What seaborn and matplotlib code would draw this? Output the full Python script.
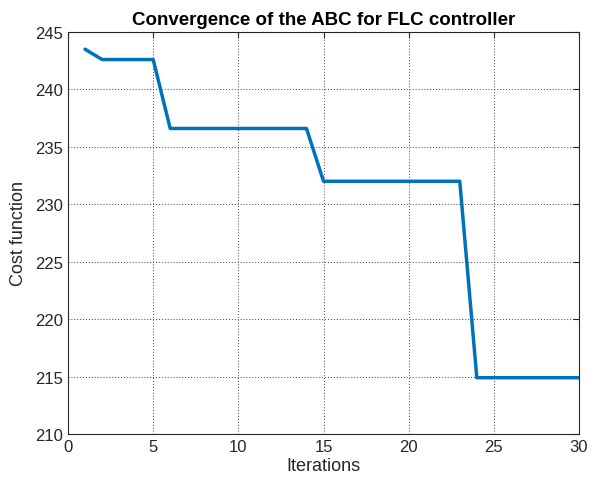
import numpy as np
import pandas as pd
import matplotlib
matplotlib.use("Agg")
import matplotlib.pyplot as plt
import seaborn as sns

iterations = list(range(1, 31))
cost = ([243.5, 242.6, 242.6, 242.6, 242.6]
        + [236.6] * 9
        + [232.0] * 9
        + [214.9] * 7)
x_ticks = [0, 5, 10, 15, 20, 25, 30]
y_ticks = [210, 215, 220, 225, 230, 235, 240, 245]

sns.set_style("white")
plt.rcParams['font.family'] = ['Liberation Sans', 'DejaVu Sans']

df = pd.DataFrame({"Iterations": iterations, "Cost function": cost})

fig = plt.figure(figsize=(5.93, 4.85), dpi=100)
ax = fig.add_axes([0.1147, 0.1031, 0.8617, 0.8289])
sns.lineplot(data=df, x="Iterations", y="Cost function", ax=ax,
             color="#0072BD", linewidth=2.5)

ax.set_xlim(0, 30)
ax.set_ylim(210, 245)
ax.set_xticks(x_ticks)
ax.set_yticks(y_ticks)
ax.tick_params(direction="in", top=True, right=True, labelsize=12,
               length=4, width=0.8, colors="#262626", labelcolor="#262626")
ax.grid(True, linestyle=(0, (1, 2)), color="#404040", linewidth=0.7)
for s in ax.spines.values():
    s.set_visible(True)
    s.set_color("#262626")
    s.set_linewidth(0.8)

ax.set_xlabel("Iterations", fontsize=13, color="#262626", labelpad=2)
ax.set_ylabel("Cost function", fontsize=13, color="#262626", labelpad=6)
ax.set_title("Convergence of the ABC for FLC controller", fontsize=13.5,
             fontweight="bold", color="black", pad=6)

fig.savefig("out.png", dpi=100)
